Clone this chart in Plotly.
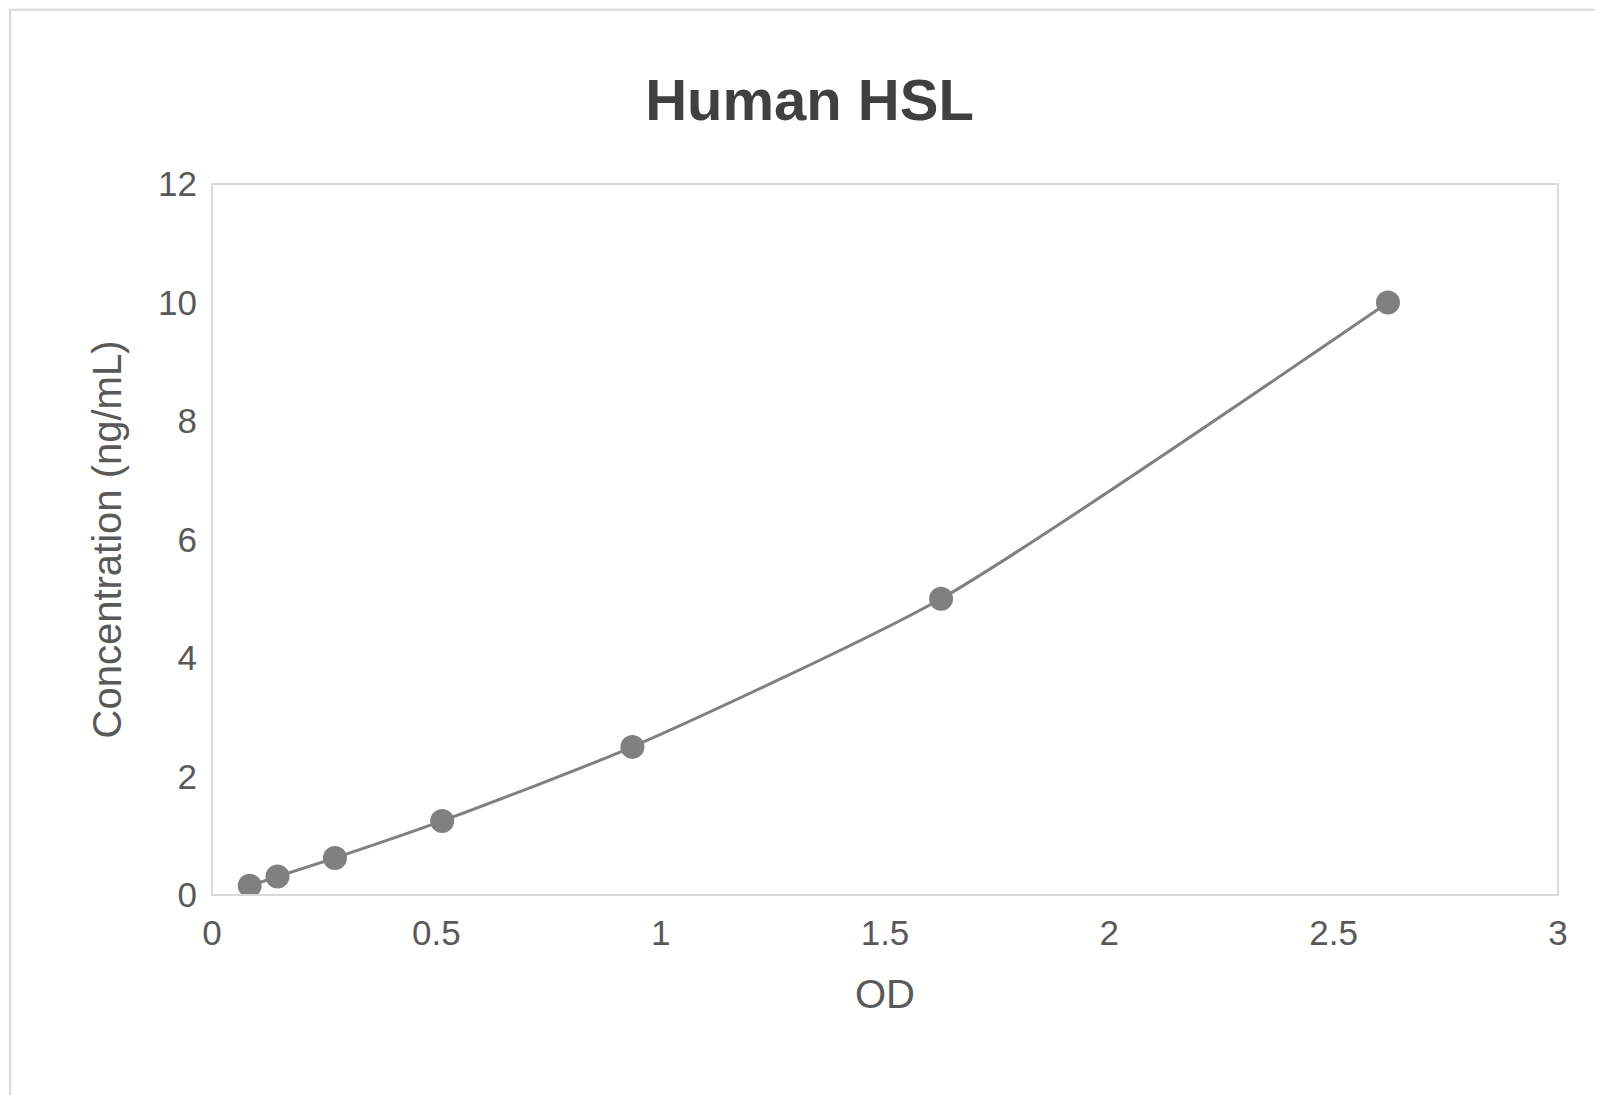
import plotly.graph_objects as go

od = [0.084, 0.146, 0.274, 0.513, 0.937, 1.625, 2.621]
conc = [0.156, 0.312, 0.625, 1.25, 2.5, 5, 10]

fig = go.Figure()
fig.add_trace(go.Scatter(
    x=od, y=conc, mode="lines+markers",
    line=dict(color="#808080", width=3, shape="spline", smoothing=0.6),
    marker=dict(color="#808080", size=24),
    showlegend=False,
))

axis_font = dict(family="Liberation Sans, Arial", size=35, color="#595959")
title_font = dict(family="Liberation Sans, Arial", size=40, color="#595959")
fig.update_layout(
    width=1603, height=1095,
    paper_bgcolor="white", plot_bgcolor="white",
    margin=dict(l=204, r=53, t=176, b=208),
    title=dict(text="<b>Human HSL</b>", x=0.5, xanchor="center", y=0.935,
               font=dict(family="Liberation Sans, Arial", size=58, color="#404040")),
    xaxis=dict(range=[0, 3], dtick=0.5, showgrid=False, zeroline=False,
               showline=False, ticks="", tickfont=axis_font, ticklabelstandoff=14,
               title=dict(text="OD", font=title_font, standoff=28)),
    yaxis=dict(range=[0, 12], dtick=2, showgrid=False, zeroline=False,
               showline=False, ticks="", tickfont=axis_font, ticklabelstandoff=14,
               title=dict(text="Concentration (ng/mL)", font=title_font, standoff=24)),
    shapes=[
        dict(type="rect", xref="x domain", yref="y domain", x0=0, x1=1, y0=0, y1=1,
             line=dict(color="#d9d9d9", width=2)),
        dict(type="rect", xref="paper", yref="paper", x0=-0.150, x1=1.038, y0=-0.290, y1=1.245,
             line=dict(color="#d9d9d9", width=2)),
    ],
)
fig.write_html("out.html")
